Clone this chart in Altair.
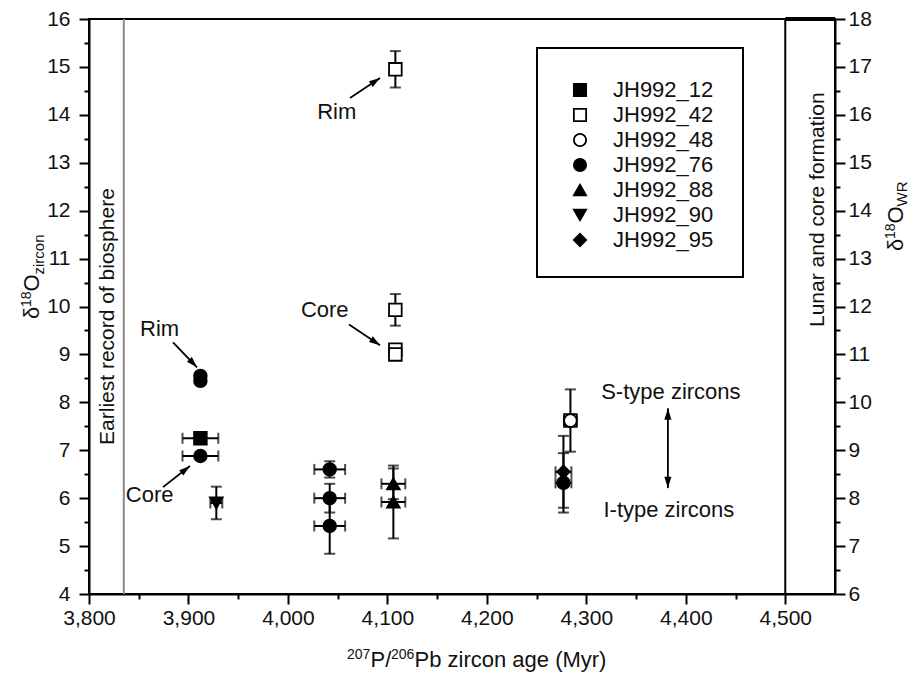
import math
import altair as alt
import pandas as pd

# ---------------- data ----------------
samples = ["JH992_12", "JH992_42", "JH992_48", "JH992_76", "JH992_88", "JH992_90", "JH992_95"]
sample_shapes = ["square", "square", "circle", "circle", "triangle-up", "triangle-down", "diamond"]
sample_fills = ["black", "white", "white", "black", "black", "black", "black"]

pt_sample = ["JH992_12", "JH992_76", "JH992_76", "JH992_76", "JH992_90",
             "JH992_76", "JH992_76", "JH992_76", "JH992_88", "JH992_88",
             "JH992_42", "JH992_42", "JH992_42", "JH992_42",
             "JH992_42", "JH992_48", "JH992_95", "JH992_76"]
pt_age = [3912, 3912, 3912, 3912, 3928,
          4042, 4042, 4042, 4106, 4106,
          4108, 4108, 4108, 4108,
          4284, 4284, 4277, 4277]
pt_d18o = [7.25, 6.88, 8.55, 8.45, 5.90,
           6.60, 6.00, 5.42, 6.30, 5.92,
           14.95, 9.93, 9.10, 9.00,
           7.62, 7.62, 6.55, 6.32]
pt_age_err = [18, 18, 0, 0, 6,
              15.5, 15.5, 15.5, 12, 12,
              0, 0, 0, 0,
              6, 6, 8, 8]
pt_d18o_err = [0.08, 0.08, 0, 0, 0.34,
               0.17, 0.30, 0.58, 0.32, 0.76,
               0.38, 0.33, 0, 0,
               0, 0.65, 0.75, 0.62]

x_domain = [3800, 4550]
y_domain = [4, 16]
y_right_domain = [6, 18]
x_tick_values = list(range(3800, 4501, 50))
y_tick_values = [4 + 0.5 * i for i in range(25)]
y_right_tick_values = [6 + 0.5 * i for i in range(25)]

biosphere_age = 3835
lunar_age = 4500

ann_text = ["Rim", "Core", "Rim", "Core", "S-type zircons", "I-type zircons"]
ann_x = [3871, 3861, 4049, 4037, 4385, 4383]
ann_y = [9.54, 6.06, 14.06, 9.92, 8.21, 5.75]

arrow_x1 = [3884.5, 3874.4, 4062.4, 4061.4]
arrow_y1 = [9.25, 6.23, 14.35, 9.625]
arrow_x2 = [3908.6, 3901.5, 4092.6, 4092.6]
arrow_y2 = [8.73, 6.67, 14.77, 9.19]

dbl_x = 4382
dbl_y_low = 6.21
dbl_y_high = 7.875

# ---------------- constants ----------------
FONT = "Liberation Sans"
W, H = 746, 575
PX_PER_X = W / (x_domain[1] - x_domain[0])
PX_PER_Y = H / (y_domain[1] - y_domain[0])

df = pd.DataFrame({"sample": pt_sample, "age": pt_age, "d18o": pt_d18o,
                   "xerr": pt_age_err, "yerr": pt_d18o_err})
df["x_lo"] = df["age"] - df["xerr"]
df["x_hi"] = df["age"] + df["xerr"]
df["y_lo"] = df["d18o"] - df["yerr"]
df["y_hi"] = df["d18o"] + df["yerr"]
dfx = df[df["xerr"] > 0]
dfy = df[df["yerr"] > 0]

x_scale = alt.Scale(domain=x_domain, nice=False, zero=False)
y_scale = alt.Scale(domain=y_domain, nice=False, zero=False)

x_axis = alt.Axis(values=x_tick_values, title=None, grid=False,
                  labelExpr="datum.value % 100 === 0 ? format(datum.value, ',') : ''",
                  tickSize={"condition": {"test": "datum.value % 100 === 0", "value": 10}, "value": 5},
                  labelPadding=3, labelOverlap=False, labelFlush=False)
y_axis = alt.Axis(values=y_tick_values, title=None, grid=False,
                  labelExpr="datum.value % 1 === 0 ? datum.value : ''",
                  tickSize={"condition": {"test": "datum.value % 1 === 0", "value": 10}, "value": 5},
                  labelPadding=9, labelOverlap=False, labelFlush=False)


def X(field):
    return alt.X(field, type="quantitative", scale=x_scale, axis=x_axis)


def Y(field):
    return alt.Y(field, type="quantitative", scale=y_scale, axis=y_axis)


one = pd.DataFrame({"k": [0]})

# reference lines
bio = alt.Chart(pd.DataFrame({"a": [biosphere_age]})).mark_rule(
    color="#8a8a8a", strokeWidth=2).encode(x=X("a"))
lunar = alt.Chart(pd.DataFrame({"a": [lunar_age]})).mark_rule(
    color="black", strokeWidth=2).encode(x=X("a"))
lunar_top = alt.Chart(pd.DataFrame({"a": [lunar_age], "b": [x_domain[1]], "c": [y_domain[1]]})).mark_rule(
    color="black", strokeWidth=4).encode(x=X("a"), x2="b", y=Y("c"))

# error bars
xerr_rule = alt.Chart(dfx).mark_rule(color="black", strokeWidth=2).encode(
    x=X("x_lo"), x2="x_hi", y=Y("d18o"))
yerr_rule = alt.Chart(dfy).mark_rule(color="black", strokeWidth=2).encode(
    x=X("age"), y=Y("y_lo"), y2="y_hi")
xcap_lo = alt.Chart(dfx).mark_tick(orient="vertical", color="black", thickness=2, size=11).encode(
    x=X("x_lo"), y=Y("d18o"))
xcap_hi = alt.Chart(dfx).mark_tick(orient="vertical", color="black", thickness=2, size=11).encode(
    x=X("x_hi"), y=Y("d18o"))
ycap_lo = alt.Chart(dfy).mark_tick(orient="horizontal", color="black", thickness=2, size=11).encode(
    x=X("age"), y=Y("y_lo"))
ycap_hi = alt.Chart(dfy).mark_tick(orient="horizontal", color="black", thickness=2, size=11).encode(
    x=X("age"), y=Y("y_hi"))

legend = alt.Legend(title=None, orient="none", legendX=480, legendY=60,
                    labelFont=FONT, labelFontSize=22, labelColor="#111",
                    symbolSize=150, symbolStrokeWidth=1.8,
                    labelOffset=22, rowPadding=3)

points = alt.Chart(df).mark_point(filled=True, size=160, strokeWidth=1.8, opacity=1).encode(
    x=X("age"), y=Y("d18o"),
    shape=alt.Shape("sample:N", scale=alt.Scale(domain=samples, range=sample_shapes), legend=legend),
    fill=alt.Fill("sample:N", scale=alt.Scale(domain=samples, range=sample_fills), legend=legend),
    stroke=alt.Stroke("sample:N", scale=alt.Scale(domain=samples, range=["black"] * len(samples)),
                      legend=legend),
)

# legend frame
legend_box = alt.Chart(one).mark_rect(fill="white", stroke="black", strokeWidth=2).encode(
    x=alt.value(448), x2=alt.value(654), y=alt.value(29), y2=alt.value(258))

# annotations
ann_df = pd.DataFrame({"t": ann_text, "x": ann_x, "y": ann_y})
ann = alt.Chart(ann_df).mark_text(font=FONT, fontSize=22, color="#111", align="center",
                                  baseline="middle").encode(x=X("x"), y=Y("y"), text="t:N")

arr_df = pd.DataFrame({"x1": arrow_x1, "y1": arrow_y1, "x2": arrow_x2, "y2": arrow_y2})
arr_df["ang"] = [
    (math.degrees(math.atan2((b - a) * PX_PER_X, (d - c) * PX_PER_Y)) + 360) % 360
    for a, b, c, d in zip(arr_df["x1"], arr_df["x2"], arr_df["y1"], arr_df["y2"])
]
HEAD = "M0,0L-0.5,1.6L0.5,1.6Z"
arr_line = alt.Chart(arr_df).mark_rule(color="black", strokeWidth=1.8).encode(
    x=X("x1"), y=Y("y1"), x2="x2", y2="y2")
arr_head = alt.Chart(arr_df).mark_point(shape=HEAD, filled=True, color="black", size=190,
                                        opacity=1).encode(
    x=X("x2"), y=Y("y2"), angle=alt.Angle("ang:Q", scale=None))

dbl_df = pd.DataFrame({"x": [dbl_x, dbl_x], "y": [dbl_y_high, dbl_y_low],
                       "y_other": [dbl_y_low, dbl_y_high], "ang": [0, 180]})
dbl_line = alt.Chart(dbl_df.iloc[:1]).mark_rule(color="black", strokeWidth=1.8).encode(
    x=X("x"), y=Y("y"), y2="y_other")
dbl_head = alt.Chart(dbl_df).mark_point(shape=HEAD, filled=True, color="black", size=200,
                                        opacity=1).encode(
    x=X("x"), y=Y("y"), angle=alt.Angle("ang:Q", scale=None))

vert_df = pd.DataFrame({"t": ["Earliest record of biosphere", "Lunar and core formation"],
                        "x": [3819, 4533], "y": [9.79, 12.02]})
vert_text = alt.Chart(vert_df).mark_text(font=FONT, fontSize=21, color="#111", angle=270,
                                         align="center", baseline="middle").encode(
    x=X("x"), y=Y("y"), text="t:N")


def txt(s, px, py, size, angle=0, align="left"):
    return alt.Chart(one).mark_text(text=s, font=FONT, fontSize=size, color="#111",
                                    angle=angle, align=align, baseline="alphabetic").encode(
        x=alt.value(px), y=alt.value(py))


titles = [
    # x title
    txt("207", 258, 640, 14),
    txt("P/", 281.5, 648, 22),
    txt("206", 302, 640, 14),
    txt("Pb zircon age (Myr)", 325.5, 648, 22),
    # left y title (reading upward)
    txt("\u03b4", -50, 300, 22, angle=270),
    txt("18", -58, 288, 14, angle=270),
    txt("O", -50, 272.5, 22, angle=270),
    txt("zircon", -45, 255.5, 15, angle=270),
    # right y title
    txt("\u03b4", 814, 232, 22, angle=270),
    txt("18", 806, 220, 14, angle=270),
    txt("O", 814, 204.5, 22, angle=270),
    txt("WR", 818, 187.5, 15, angle=270),
]

main = alt.layer(
    bio, lunar, lunar_top,
    xerr_rule, yerr_rule, xcap_lo, xcap_hi, ycap_lo, ycap_hi,
    points, legend_box,
    arr_line, arr_head, dbl_line, dbl_head, ann, vert_text,
    *titles,
)

right_axis = alt.Chart(pd.DataFrame({"v": y_right_domain})).mark_point(opacity=0).encode(
    x=alt.value(0),
    y=alt.Y("v:Q", scale=alt.Scale(domain=y_right_domain, nice=False, zero=False),
            axis=alt.Axis(orient="right", values=y_right_tick_values, title=None, grid=False,
                          labelExpr="datum.value % 1 === 0 ? datum.value : ''",
                          tickSize={"condition": {"test": "datum.value % 1 === 0", "value": 10},
                                    "value": 5},
                          labelPadding=3, labelOverlap=False, labelFlush=False)),
)

chart = alt.layer(main, right_axis).resolve_scale(y="independent").properties(
    width=W, height=H,
    autosize=alt.AutoSizeParams(type="none"),
    padding={"left": 81, "top": 11, "right": 76, "bottom": 78},
    background="white",
).configure_view(stroke="black", strokeWidth=2).configure_axis(
    labelFont=FONT, labelFontSize=21, labelColor="#111",
    domainColor="black", domainWidth=2, tickColor="black", tickWidth=2,
)

chart.save("out.html", embed_options={"renderer": "svg", "actions": False})
